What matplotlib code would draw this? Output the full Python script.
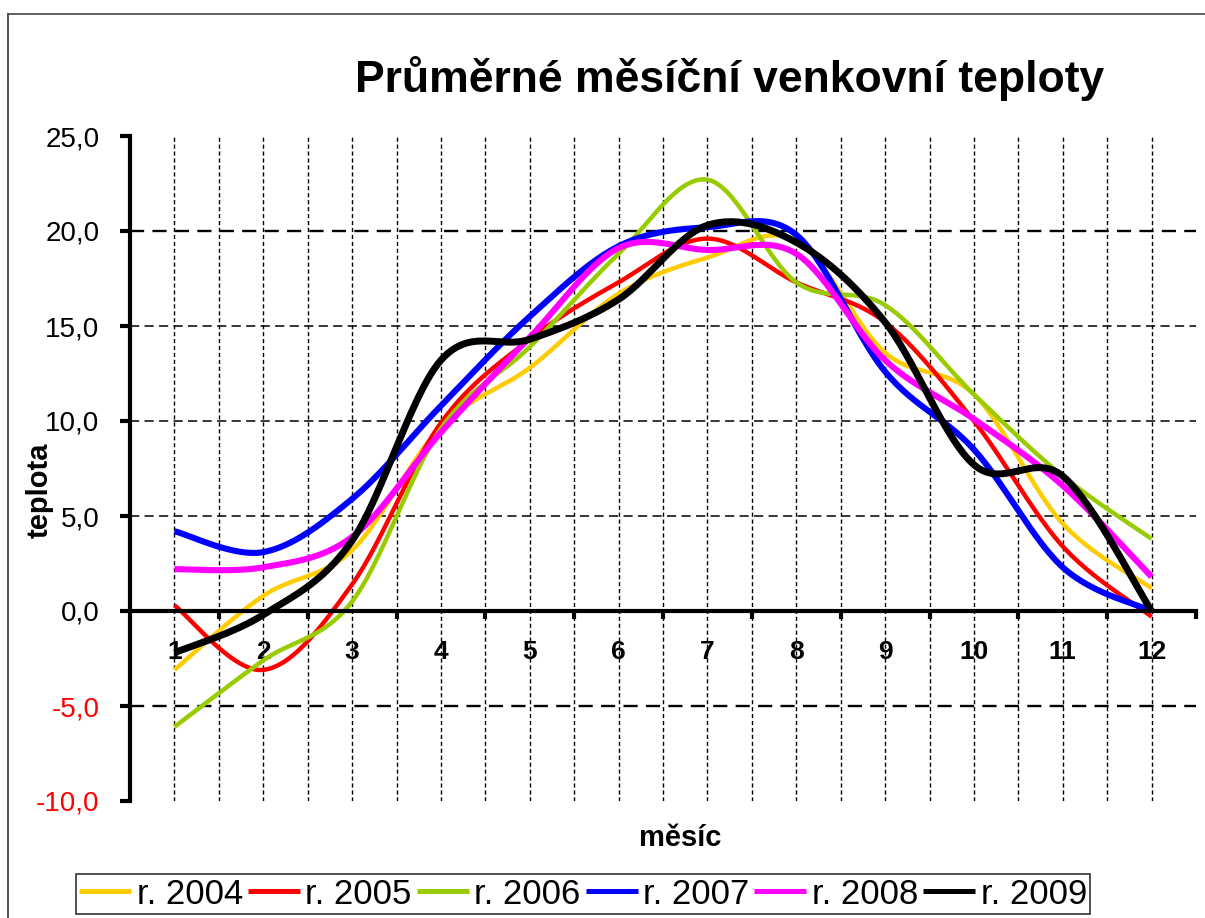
import numpy as np
import matplotlib.pyplot as plt
from matplotlib.lines import Line2D

plt.rcParams['font.family'] = ['Liberation Sans', 'DejaVu Sans']

# data
mesice = [1, 2, 3, 4, 5, 6, 7, 8, 9, 10, 11, 12]
t2004 = [-3.1, 0.8, 3.2, 9.7, 12.8, 16.7, 18.6, 19.5, 13.6, 11.4, 4.6, 1.2]
t2005 = [0.3, -3.1, 1.4, 9.9, 14.3, 17.3, 19.6, 17.3, 15.2, 10.0, 3.4, -0.3]
t2006 = [-6.1, -2.6, 0.5, 9.6, 13.9, 18.8, 22.7, 17.3, 16.1, 11.4, 7.1, 3.8]
t2007 = [4.2, 3.1, 5.9, 10.8, 15.5, 19.2, 20.2, 19.8, 12.6, 8.5, 2.3, 0.0]
t2008 = [2.2, 2.3, 3.9, 9.4, 14.4, 19.1, 19.0, 18.8, 13.2, 10.1, 6.6, 1.8]
t2009 = [-2.2, -0.2, 3.7, 13.2, 14.3, 16.4, 20.3, 19.4, 15.2, 7.7, 7.1, 0.0]
roky = ['r. 2004', 'r. 2005', 'r. 2006', 'r. 2007', 'r. 2008', 'r. 2009']
barvy = ['#FFCC00', '#FF0000', '#99CC00', '#0000FF', '#FF00FF', '#000000']
tloustky = [3.2, 3.2, 3.2, 4.4, 4.4, 5.0]
y_ticks = [-10, -5, 0, 5, 10, 15, 20, 25]


def vyhlad(x, y, n=30):
    # Excel-like smoothing (Catmull-Rom / Bezier)
    x = np.asarray(x, float)
    y = np.asarray(y, float)
    px = np.concatenate([[x[0]], x, [x[-1]]])
    py = np.concatenate([[y[0]], y, [y[-1]]])
    xs, ys = [], []
    t = np.linspace(0, 1, n, endpoint=False)
    for i in range(1, len(px) - 2):
        p0 = np.array([px[i], py[i]])
        p3 = np.array([px[i + 1], py[i + 1]])
        c1 = p0 + (p3 - np.array([px[i - 1], py[i - 1]])) / 6
        c2 = p3 - (np.array([px[i + 2], py[i + 2]]) - p0) / 6
        b = ((1 - t) ** 3)[:, None] * p0 + (3 * (1 - t) ** 2 * t)[:, None] * c1 \
            + (3 * (1 - t) * t ** 2)[:, None] * c2 + (t ** 3)[:, None] * p3
        xs.extend(b[:, 0])
        ys.extend(b[:, 1])
    xs.append(x[-1])
    ys.append(y[-1])
    return xs, ys


fig = plt.figure(figsize=(12.05, 9.18), dpi=100)
ax = fig.add_axes([130 / 1205, 1 - 801 / 918, 1066 / 1205, 665 / 918])

# gridlines
for gx in np.arange(1, 12.5, 0.5):
    ax.axvline(gx, color='black', lw=1.0, ls=(0, (3, 2)), zorder=1)
for gy in [20, 15, 10, 5, -5]:
    lw = 1.7 if gy in (20, -5) else 1.1
    ax.axhline(gy, color='black', lw=lw, ls=(0, (6, 3.5)), zorder=1)

for data, lab, c, lw in zip([t2004, t2005, t2006, t2007, t2008, t2009], roky, barvy, tloustky):
    sx, sy = vyhlad(mesice, data)
    ax.plot(sx, sy, color=c, lw=lw, label=lab, solid_capstyle='butt', zorder=3)

ax.set_xlim(0.5, 12.5)
ax.set_ylim(-10, 25)

ax.spines['top'].set_visible(False)
ax.spines['right'].set_visible(False)
ax.spines['left'].set_linewidth(3)
ax.spines['bottom'].set_linewidth(3)
ax.spines['bottom'].set_position(('data', 0))
ax.spines['bottom'].set_zorder(4)

ax.set_yticks(y_ticks, [f'{v:.1f}'.replace('.', ',') for v in y_ticks])
ax.tick_params(axis='y', direction='out', length=7, width=3, pad=15, labelsize=20)
for lab, v in zip(ax.get_yticklabels(), y_ticks):
    if v < 0:
        lab.set_color('red')

ax.set_xticks(np.arange(1.5, 13, 1.0))
ax.set_xticklabels([])
ax.set_xticks(mesice, minor=True)
ax.set_xticklabels([str(m) for m in mesice], minor=True, fontweight='bold', fontsize=19)
ax.tick_params(axis='x', which='major', direction='out', length=6, width=3)
ax.tick_params(axis='x', which='minor', length=0, pad=21)

ax.set_ylabel('teplota', fontsize=21, fontweight='bold', labelpad=0)
ax.yaxis.set_label_coords(-76 / 1066, (801 - 490) / 665)
fig.text(680 / 1205, 1 - 838 / 918, 'měsíc', fontsize=21, fontweight='bold',
         ha='center', va='center')

fig.text(730 / 1205, 1 - 92 / 918, 'Průměrné měsíční venkovní teploty', fontsize=32,
         fontweight='bold', ha='center', va='baseline')

leg = fig.legend(loc='center', bbox_to_anchor=(583 / 1205, 1 - 894 / 918), ncol=6,
                 fontsize=25, frameon=True, fancybox=False, handlelength=1.5,
                 handletextpad=0.15, columnspacing=0.15, borderpad=0.1,
                 borderaxespad=0)
leg.get_frame().set_edgecolor('black')
leg.get_frame().set_linewidth(1.2)
for h in leg.get_lines():
    h.set_linewidth(3.6)

# chart border (left and top)
fig.add_artist(Line2D([8 / 1205, 8 / 1205], [0, 1 - 14 / 918], color='#333333', lw=1.2))
fig.add_artist(Line2D([8 / 1205, 1], [1 - 14 / 918, 1 - 14 / 918], color='#444444', lw=1.2))

fig.savefig('out.png', dpi=100)
